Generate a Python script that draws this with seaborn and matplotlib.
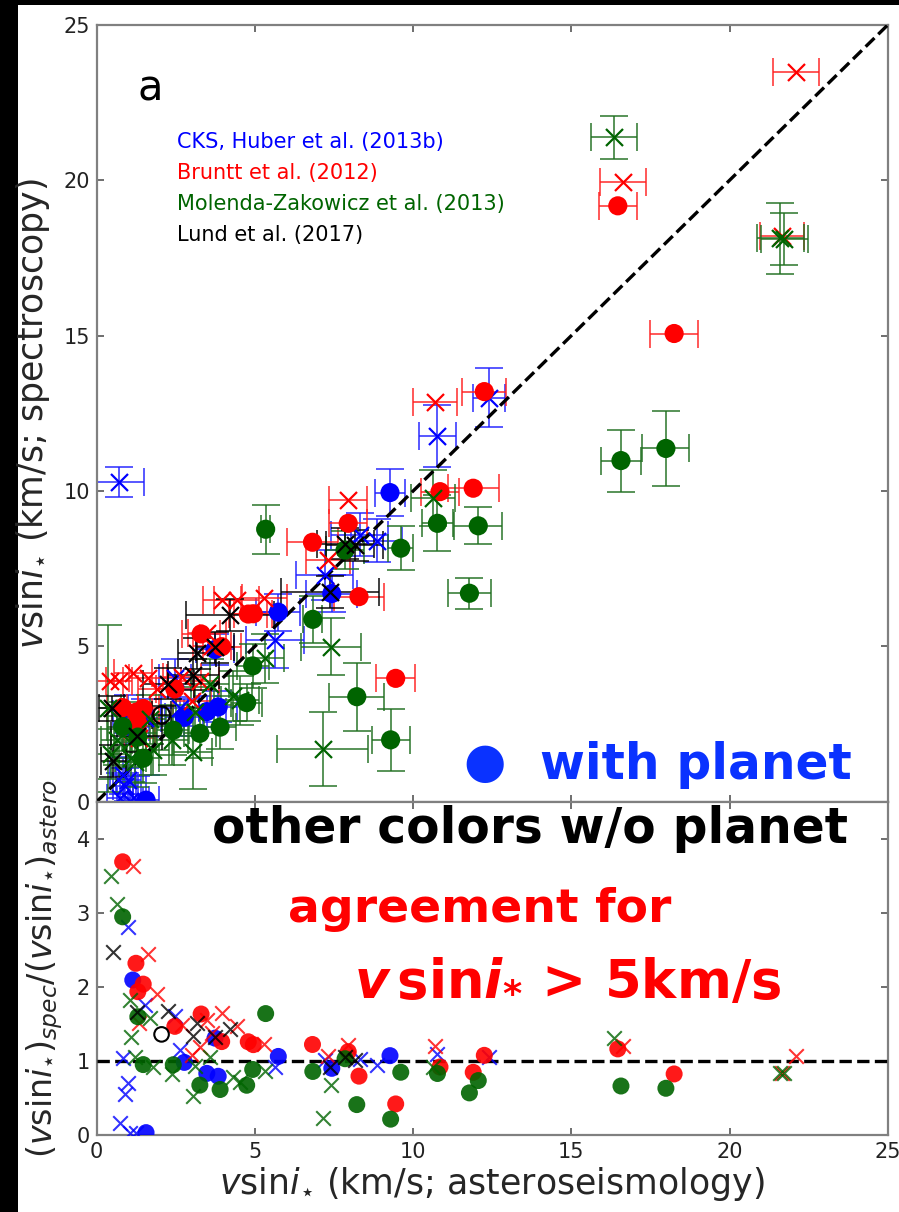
import numpy as np
import pandas as pd
import matplotlib
matplotlib.use("Agg")
import matplotlib.pyplot as plt
from matplotlib.patches import Rectangle
import seaborn as sns

# ---------------------------------------------------------------------------
# v sin i (km/s): asteroseismic value (x) vs spectroscopic value (y)
# kind: "o" = host with planet, "x" = no planet, "open" = open symbol
# ---------------------------------------------------------------------------
cks_x    = [0.72, 9.27, 12.4, 10.77, 5.74, 5.64, 7.43, 7.2, 8.32, 8.85, 3.74, 3.48, 3.84,
            2.77, 2.63, 2.47, 1.14, 1.0, 1.53, 0.82, 1.0, 0.9, 0.74, 1.05, 1.25, 1.56]
cks_y    = [10.3, 9.95, 13.0, 11.77, 6.1, 5.2, 6.7, 7.3, 8.6, 8.4, 4.9, 2.9, 3.05,
            2.72, 3.03, 3.98, 2.39, 2.82, 2.69, 0.85, 0.71, 0.5, 0.12, 0.03, 0.04, 0.05]
cks_xerr = [0.79, 0.47, 0.5, 0.58, 0.7, 0.92, 0.8, 0.9, 0.9, 0.8, 0.6, 0.6, 0.6,
            0.6, 0.6, 0.5, 0.5, 0.5, 0.5, 0.4, 0.4, 0.4, 0.4, 0.4, 0.4, 0.4]
cks_yerr = [0.48, 0.75, 0.95, 1.0, 0.6, 0.9, 0.6, 0.8, 0.7, 0.7, 0.5, 0.5, 0.5,
            0.6, 0.6, 0.6, 0.5, 0.6, 0.6, 0.6, 0.7, 0.6, 0.8, 0.8, 0.8, 0.8]
cks_kind = ["x", "o", "x", "x", "o", "x", "o", "x", "x", "x", "o", "o", "o",
            "o", "x", "x", "o", "x", "x", "x", "x", "x", "x", "x", "x", "o"]

bruntt_x    = [22.09, 16.64, 16.47, 18.25, 21.65, 12.25, 11.9, 10.69, 10.85, 9.45, 8.29,
               7.95, 7.95, 6.82, 7.32, 5.3, 4.42, 3.95, 4.79, 4.95, 3.95, 3.3, 2.47,
               3.48, 3.26, 2.69, 1.9, 1.63, 1.14, 1.35, 0.82, 1.24, 1.47, 1.3, 3.63,
               3.0, 0.42, 0.7]
bruntt_y    = [23.5, 19.96, 19.18, 15.07, 18.2, 13.2, 10.09, 12.87, 9.98, 3.97, 6.6,
               8.96, 9.7, 8.35, 7.78, 6.55, 6.5, 6.5, 6.04, 6.05, 4.99, 5.4, 3.63,
               5.43, 3.88, 4.0, 3.63, 3.98, 4.15, 2.05, 3.03, 2.88, 3.0, 2.52, 5.0,
               3.25, 3.9, 3.9]
bruntt_xerr = [0.73, 0.73, 0.61, 0.75, 0.7, 0.7, 0.8, 0.7, 0.6, 0.62, 0.8,
               0.6, 0.6, 0.8, 0.7, 0.7, 0.7, 0.6, 0.6, 0.6, 0.6, 0.6, 0.6,
               0.6, 0.6, 0.6, 0.6, 0.6, 0.6, 0.5, 0.5, 0.5, 0.5, 0.5, 0.6,
               0.6, 0.4, 0.4]
bruntt_kind = ["x", "x", "o", "o", "x", "o", "o", "x", "o", "o", "o",
               "o", "x", "o", "x", "x", "x", "x", "o", "o", "o", "o", "o",
               "x", "x", "x", "x", "x", "x", "x", "o", "o", "o", "o", "x",
               "x", "x", "x"]

molenda_x    = [16.35, 21.6, 21.73, 16.57, 17.99, 12.06, 11.78, 10.77, 10.64, 9.61,
                8.22, 9.29, 7.14, 7.4, 6.83, 7.85, 5.34, 5.32, 4.93, 4.74, 4.32, 4.53,
                3.9, 3.26, 3.58, 3.05, 3.1, 2.42, 2.37, 1.79, 1.47, 1.3, 1.68, 1.05,
                1.07, 1.21, 0.82, 0.63, 0.44, 0.36]
molenda_y    = [21.38, 18.13, 18.11, 10.98, 11.37, 8.88, 6.71, 8.96, 9.77, 8.16,
                3.38, 1.99, 1.69, 4.99, 5.87, 8.1, 8.77, 4.61, 4.37, 3.19, 3.41, 3.26,
                2.4, 2.2, 3.8, 1.6, 2.9, 2.3, 1.97, 1.65, 1.4, 2.08, 2.65, 1.92,
                1.42, 1.28, 2.42, 1.97, 1.54, 3.0]
molenda_xerr = [0.72, 0.74, 0.75, 0.62, 0.74, 0.76, 0.68, 0.5, 0.7, 0.4,
                0.87, 0.6, 1.43, 0.95, 0.3, 0.6, 0.15, 0.6, 0.5, 0.5, 0.6, 0.6,
                0.5, 0.5, 0.6, 0.6, 0.6, 0.5, 0.5, 0.5, 0.5, 0.5, 0.5, 0.5,
                0.5, 0.5, 0.5, 0.5, 0.5, 0.4]
molenda_yerr = [0.7, 1.15, 0.83, 1.0, 1.2, 0.59, 0.5, 0.9, 0.9, 0.7,
                1.09, 1.0, 1.19, 0.91, 0.75, 0.6, 0.79, 0.8, 0.7, 0.6, 0.8, 0.8,
                0.7, 0.8, 0.8, 1.2, 0.8, 0.8, 0.8, 0.8, 0.8, 0.8, 0.8, 0.8,
                0.8, 0.8, 0.8, 0.8, 0.8, 2.7]
molenda_kind = ["x", "x", "x", "o", "o", "o", "o", "o", "x", "o",
                "o", "o", "x", "x", "o", "o", "o", "x", "o", "o", "x", "x",
                "o", "o", "x", "x", "x", "o", "x", "x", "o", "o", "x", "x",
                "x", "x", "o", "x", "x", "x"]

lund_x    = [7.37, 7.85, 8.15, 4.21, 3.16, 3.05, 2.26, 1.26, 0.53, 0.47, 2.05, 3.74]
lund_y    = [6.75, 8.3, 8.25, 6.01, 4.78, 4.08, 3.79, 2.1, 1.31, 3.0, 2.79, 4.97]
lund_xerr = [1.55, 0.9, 0.9, 1.4, 0.6, 0.8, 0.8, 0.8, 0.4, 0.4, 0.3, 0.6]
lund_yerr = [0.5, 0.5, 0.5, 0.5, 0.5, 0.5, 0.5, 0.5, 0.5, 0.4, 0.3, 0.5]
lund_kind = ["x", "x", "x", "x", "x", "x", "x", "x", "x", "x", "open", "x"]

survey_labels = ["CKS, Huber et al. (2013b)", "Bruntt et al. (2012)",
                 "Molenda-Zakowicz et al. (2013)", "Lund et al. (2017)"]
survey_colors = ["#0000ff", "#ff0000", "#006400", "#000000"]
errbar_colors = ["#2020ff", "#ff2020", "#1f6f1f", "#000000"]

axis_ticks = [0, 5, 10, 15, 20, 25]
ratio_ticks = [0, 1, 2, 3, 4]

# ---------------------------------------------------------------------------
frames = []
for label, xs, ys, xe, ye, kind in [
        (survey_labels[0], cks_x, cks_y, cks_xerr, cks_yerr, cks_kind),
        (survey_labels[1], bruntt_x, bruntt_y, bruntt_xerr, [0.0] * len(bruntt_x), bruntt_kind),
        (survey_labels[2], molenda_x, molenda_y, molenda_xerr, molenda_yerr, molenda_kind),
        (survey_labels[3], lund_x, lund_y, lund_xerr, lund_yerr, lund_kind)]:
    frames.append(pd.DataFrame({"survey": label, "x": xs, "y": ys,
                                "xerr": xe, "yerr": ye, "kind": kind}))
data = pd.concat(frames, ignore_index=True)
data["ratio"] = data["y"] / data["x"]

sns.set_theme(style="ticks")
plt.rcParams["font.family"] = ["DejaVu Sans"]
plt.rcParams["mathtext.fontset"] = "dejavusans"

W, H = 899, 1212
fig = plt.figure(figsize=(W / 100, H / 100), dpi=100, facecolor="white")


def fx(px):
    return px / W


def fy(py):
    return 1 - py / H


ax1 = fig.add_axes([fx(96.7), fy(801.7), fx(887.7) - fx(96.7), fy(25) - fy(801.7)])
ax2 = fig.add_axes([fx(96.7), fy(1135), fx(887.7) - fx(96.7), fy(802.3) - fy(1135)])

# --- upper panel: spectroscopic vs asteroseismic -----------------------------
for label, col, ecol in zip(survey_labels, survey_colors, errbar_colors):
    sub = data[data["survey"] == label]
    yerr = sub["yerr"] if sub["yerr"].sum() > 0 else None
    ax1.errorbar(sub["x"], sub["y"], xerr=sub["xerr"], yerr=yerr, fmt="none",
                 ecolor=ecol, elinewidth=1.4, capsize=10, capthick=1.4, alpha=0.75,
                 zorder=2)

lim = [axis_ticks[0], axis_ticks[-1]]
ax1.axline((lim[0], lim[0]), slope=1, color="black", ls="--", lw=2.4, zorder=3)

for label, col in zip(survey_labels, survey_colors):
    sub = data[data["survey"] == label]
    dots = sub[sub["kind"] == "o"]
    crosses = sub[sub["kind"] == "x"]
    rings = sub[sub["kind"] == "open"]
    if len(dots):
        sns.scatterplot(x=dots["x"], y=dots["y"], ax=ax1, marker="o", s=190,
                        color=col, edgecolor="none", linewidth=0, zorder=4)
    if len(crosses):
        sns.scatterplot(x=crosses["x"], y=crosses["y"], ax=ax1, marker="x", s=150,
                        color=col, linewidth=1.6, zorder=4)
    if len(rings):
        sns.scatterplot(x=rings["x"], y=rings["y"], ax=ax1, marker="o", s=150,
                        facecolor="none", edgecolor=col, linewidth=1.6, zorder=4)

ax1.set_xlim(lim)
ax1.set_ylim(lim)
ax1.set_xticks(axis_ticks)
ax1.set_xticklabels([])
ax1.set_yticks(axis_ticks)
ax1.set_xlabel("")
ax1.set_ylabel(r"$v$sin$i_{\star}$ (km/s; spectroscopy)", fontsize=25, labelpad=8)

ax1.text(0.052, 0.903, "a", transform=ax1.transAxes, fontsize=30, color="black")
for i, (label, col) in enumerate(zip(survey_labels, survey_colors)):
    ax1.text(0.101, 0.8416 - i * 0.0398, label, transform=ax1.transAxes,
             fontsize=15, color=col, va="baseline")

# --- lower panel: ratio -------------------------------------------------------
ax2.axhline(1, color="black", ls="--", lw=2.4, zorder=3)
for label, col in zip(survey_labels, survey_colors):
    sub = data[data["survey"] == label]
    dots = sub[sub["kind"] == "o"]
    crosses = sub[sub["kind"] == "x"]
    rings = sub[sub["kind"] == "open"]
    if len(dots):
        sns.scatterplot(x=dots["x"], y=dots["ratio"], ax=ax2, marker="o", s=150,
                        color=col, edgecolor="none", linewidth=0, alpha=0.9, zorder=4)
    if len(crosses):
        sns.scatterplot(x=crosses["x"], y=crosses["ratio"], ax=ax2, marker="x", s=110,
                        color=col, linewidth=1.5, alpha=0.8, zorder=4)
    if len(rings):
        sns.scatterplot(x=rings["x"], y=rings["ratio"], ax=ax2, marker="o", s=110,
                        facecolor="none", edgecolor=col, linewidth=1.5, zorder=4)

ax2.set_xlim(lim)
ax2.set_ylim(0, 4.5)
ax2.set_xticks(axis_ticks)
ax2.set_yticks(ratio_ticks)
ax2.set_xlabel(r"$v$sin$i_{\star}$ (km/s; asteroseismology)", fontsize=25, labelpad=2)
ax2.set_ylabel(r"$(v$sin$i_{\star})_{spec}/(v$sin$i_{\star})_{astero}$", fontsize=24,
               labelpad=8)

for ax in (ax1, ax2):
    for sp in ax.spines.values():
        sp.set_color("#808080")
        sp.set_linewidth(1.6)
        sp.set_visible(True)
    ax.tick_params(direction="in", length=5, width=1.2, color="#555555",
                   top=True, right=True, labelsize=15, labelcolor="#222222", pad=5)
    ax.set_facecolor("white")
    leg = ax.get_legend()
    if leg is not None:
        leg.remove()

# --- annotation overlay -------------------------------------------------------
fig.text(fx(485), fy(763), "\u25cf", fontsize=35, color="#0a32ff",
         ha="center", va="center")
fig.text(fx(540), fy(779), "with planet", fontsize=35, fontweight="bold",
         color="#0a32ff", va="baseline")
fig.text(fx(212), fy(843), "other colors w/o planet", fontsize=35,
         fontweight="bold", color="black", va="baseline")
fig.text(fx(288), fy(922), "agreement for", fontsize=34, fontweight="bold",
         color="#ff0000", va="baseline")
fig.text(fx(354), fy(995), r"$\mathbfit{v}\,$sin$\mathbfit{i}_{\mathbf{*}}$ > 5km/s",
         fontsize=38, fontweight="bold", color="#ff0000", va="baseline")

# dark frame strips along the left and top edges
fig.patches.append(Rectangle((0, 0), fx(18), 1, transform=fig.transFigure,
                             facecolor="black", edgecolor="none", zorder=-1))
fig.patches.append(Rectangle((0, fy(5)), 1, 1 - fy(5), transform=fig.transFigure,
                             facecolor="black", edgecolor="none", zorder=-1))

fig.savefig("out.png", dpi=100, facecolor="white")
